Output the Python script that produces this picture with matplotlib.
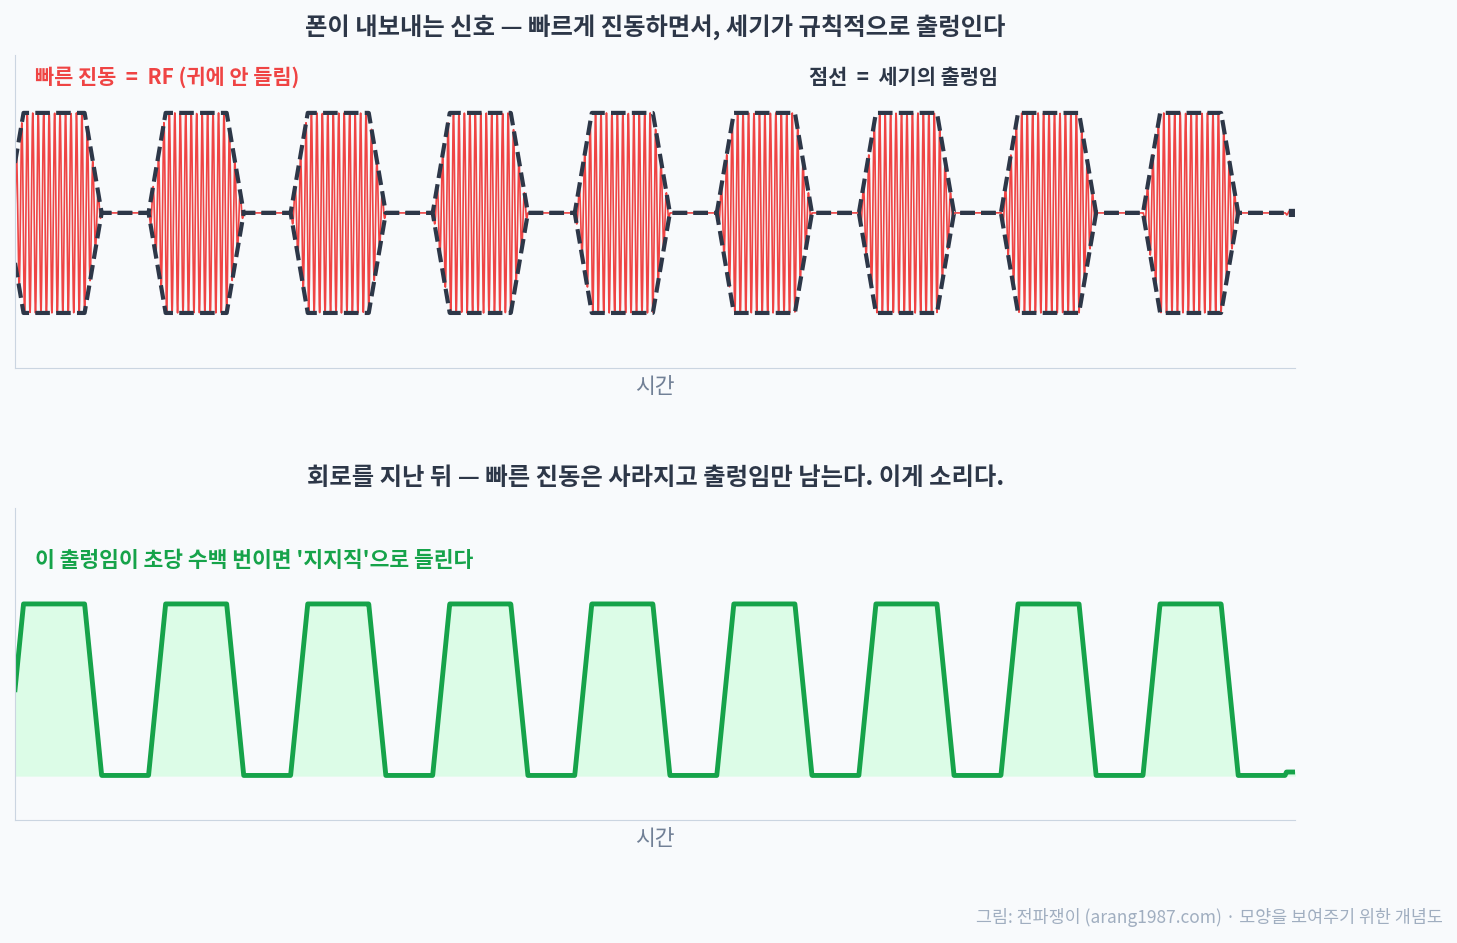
import numpy as np
import matplotlib.pyplot as plt

plt.rcParams['font.family'] = ['Noto Sans CJK KR', 'DejaVu Sans']

# envelope breakpoints (time in pulse periods, level 0..1)
env_t = [0.0, 0.06, 0.49, 0.61, 0.94, 1.06, 1.49, 1.61, 1.94, 2.06, 2.49, 2.61,
         2.94, 3.06, 3.49, 3.61, 3.94, 4.06, 4.49, 4.61, 4.94, 5.06, 5.49, 5.61,
         5.94, 6.06, 6.49, 6.61, 6.94, 7.06, 7.49, 7.61, 7.94, 8.06, 8.49, 8.61,
         8.94, 8.95, 9.01]
env_v = [0.5, 1, 1, 0, 0, 1, 1, 0, 0, 1, 1, 0,
         0, 1, 1, 0, 0, 1, 1, 0, 0, 1, 1, 0,
         0, 1, 1, 0, 0, 1, 1, 0, 0, 1, 1, 0,
         0, 0.02, 0.02]
carrier_cycles_per_period = 26

title_top = "폰이 내보내는 신호 — 빠르게 진동하면서, 세기가 규칙적으로 출렁인다"
title_bot = "회로를 지난 뒤 — 빠른 진동은 사라지고 출렁임만 남는다. 이게 소리다."
note_rf = "빠른 진동  =  RF (귀에 안 들림)"
note_env = "점선  =  세기의 출렁임"
note_buzz = "이 출렁임이 초당 수백 번이면 '지지직'으로 들린다"
credit = "그림: 전파쟁이 (arang1987.com) · 모양을 보여주기 위한 개념도"

bg = '#f8fafc'
dark = '#2d3748'
red = '#ef4444'
green = '#16a34a'
spine = '#cbd5e1'

t = np.linspace(0, 9.01, 6000)
env = np.interp(t, env_t, env_v)
sig = env * np.sin(2 * np.pi * carrier_cycles_per_period * t)

fig = plt.figure(figsize=(14.57, 9.43), dpi=100, facecolor=bg)
ax1 = fig.add_axes([0.0103, 0.6098, 0.8785, 0.332], facecolor=bg)
ax2 = fig.add_axes([0.0103, 0.1304, 0.8785, 0.331], facecolor=bg)

ax1.plot(t, sig, color=red, lw=1.2)
ax1.plot(t, env, color=dark, lw=3, ls=(0, (3.5, 1.5)))
ax1.plot(t, -env, color=dark, lw=3, ls=(0, (3.5, 1.5)))
ax1.set_ylim(-1.55, 1.58)

ax2.fill_between(t, 0, env, color='#dcfce7')
ax2.plot(t, env, color=green, lw=3.5)
ax2.set_ylim(-0.26, 1.56)

for ax in (ax1, ax2):
    ax.set_xlim(0, 9.01)
    ax.set_xticks([])
    ax.set_yticks([])
    for s in ('top', 'right'):
        ax.spines[s].set_visible(False)
    for s in ('left', 'bottom'):
        ax.spines[s].set_color(spine)
    ax.set_xlabel("시간", fontsize=15.5, color='#718096', labelpad=6)

fig.text(0.450, 0.971, title_top, ha='center', va='center', fontsize=17.5, fontweight='bold', color=dark)
fig.text(0.450, 0.493, title_bot, ha='center', va='center', fontsize=17.5, fontweight='bold', color=dark)
fig.text(0.024, 0.918, note_rf, ha='left', va='center', fontsize=15, fontweight='bold', color=red)
fig.text(0.555, 0.918, note_env, ha='left', va='center', fontsize=15, fontweight='bold', color=dark)
fig.text(0.024, 0.406, note_buzz, ha='left', va='center', fontsize=15.5, fontweight='bold', color=green)
fig.text(0.990, 0.027, credit, ha='right', va='center', fontsize=12.5, color='#a0aec0')

fig.savefig('out.png', dpi=100, facecolor=bg)
